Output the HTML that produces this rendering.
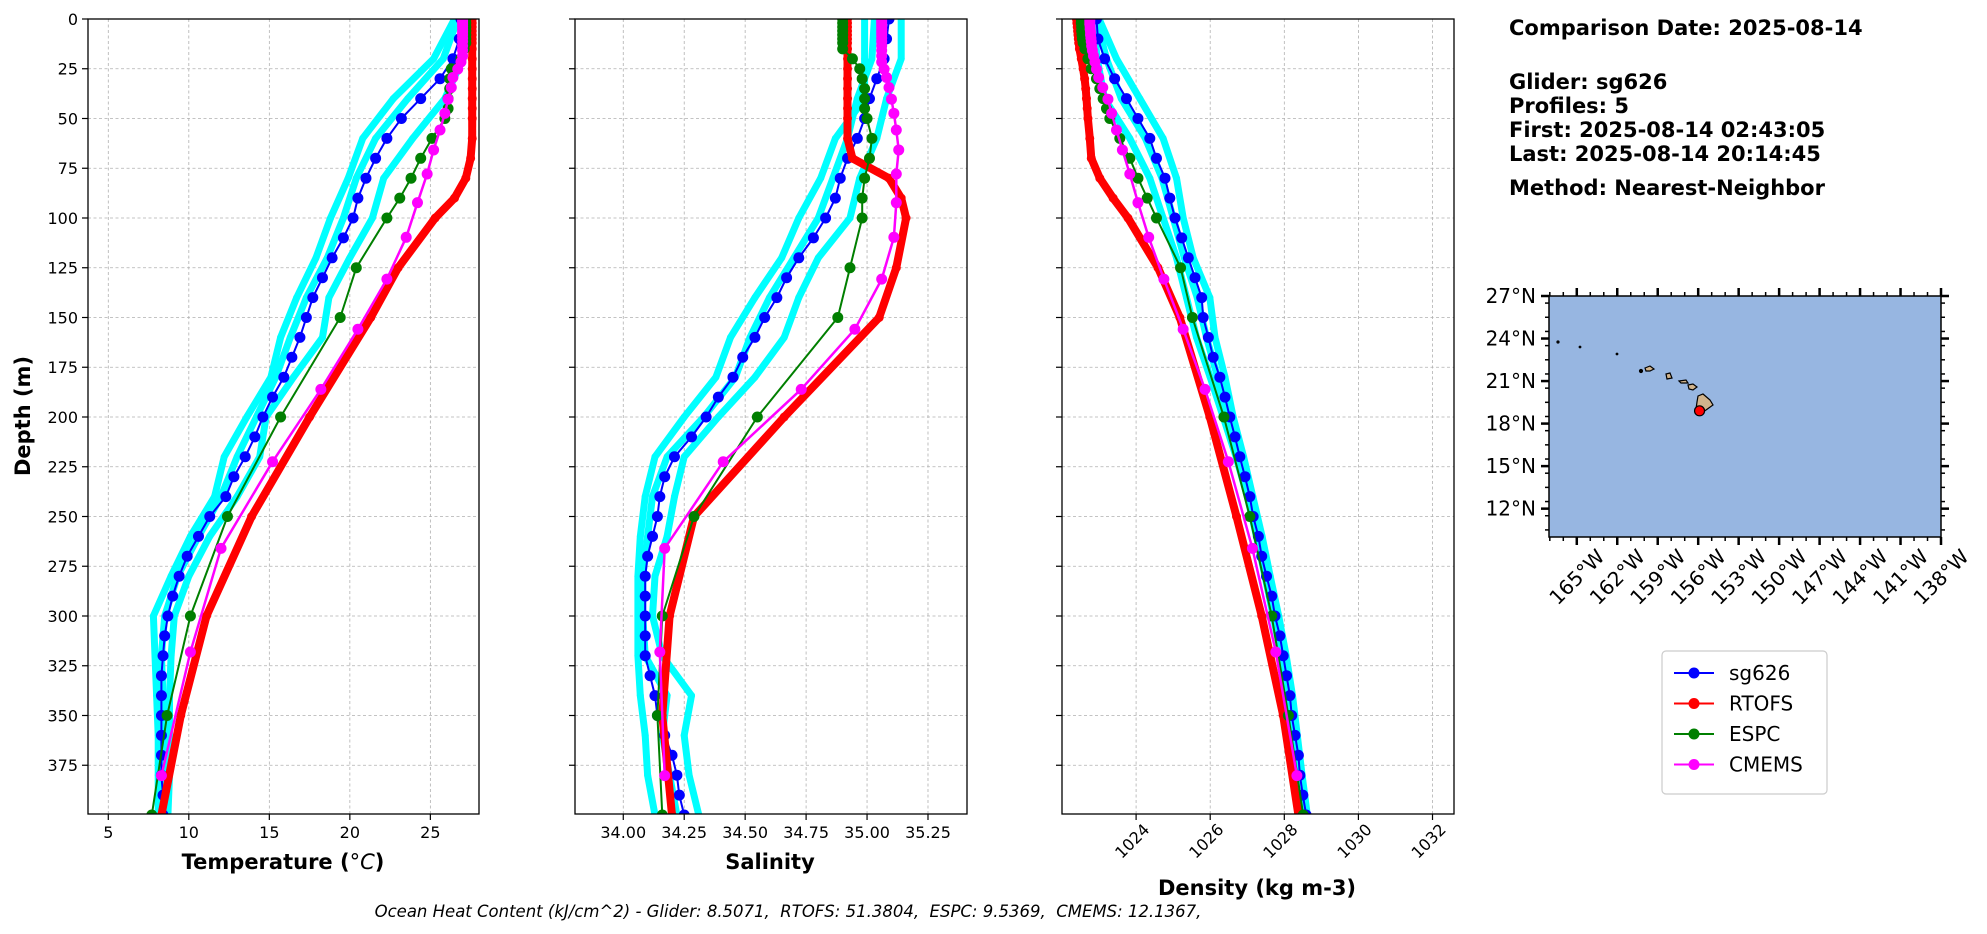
<!DOCTYPE html>
<html><head><meta charset="utf-8"><style>
html,body{margin:0;padding:0;background:#fff;}
svg{display:block;font-family:"DejaVu Sans","Liberation Sans",sans-serif;}
</style></head><body>
<svg id="fig" width="1987" height="934" viewBox="0 0 1987 934" xmlns="http://www.w3.org/2000/svg">
<rect width="1987" height="934" fill="#fff"/>
<g id="info" font-weight="bold" font-size="21" fill="#000">
<text x="1509" y="35">Comparison Date: 2025-08-14</text>
<text x="1509" y="89">Glider: sg626</text>
<text x="1509" y="113">Profiles: 5</text>
<text x="1509" y="137">First: 2025-08-14 02:43:05</text>
<text x="1509" y="161">Last: 2025-08-14 20:14:45</text>
<text x="1509" y="195">Method: Nearest-Neighbor</text>
</g>
<text x="788" y="917" text-anchor="middle" font-style="italic" font-size="16.5" style="white-space:pre" xml:space="preserve">Ocean Heat Content (kJ/cm^2) - Glider: 8.5071,  RTOFS: 51.3804,  ESPC: 9.5369,  CMEMS: 12.1367,</text>
</svg>
<script>
// ---------- data ----------
const gliderDepth=[0,10,20,30,40,50,60,70,80,90,100,110,120,130,140,150,160,170,180,190,200,210,220,230,240,250,260,270,280,290,300,310,320,330,340,350,360,370,380,390,400];
const gliderTemp=[26.9,26.8,26.4,25.6,24.4,23.2,22.3,21.6,21.0,20.5,20.2,19.6,18.9,18.3,17.7,17.3,16.9,16.4,15.9,15.2,14.6,14.1,13.5,12.8,12.3,11.3,10.6,9.9,9.4,9.0,8.7,8.5,8.4,8.3,8.3,8.3,8.3,8.3,8.3,8.4,8.4];
const gliderSal=[35.09,35.08,35.07,35.04,35.01,34.99,34.96,34.92,34.89,34.87,34.83,34.78,34.72,34.67,34.63,34.58,34.54,34.49,34.45,34.39,34.34,34.28,34.21,34.17,34.15,34.14,34.12,34.10,34.09,34.09,34.09,34.09,34.09,34.11,34.13,34.14,34.17,34.20,34.22,34.23,34.25];
const gliderDens=[1022.93,1022.97,1023.15,1023.42,1023.74,1024.05,1024.37,1024.55,1024.78,1024.91,1025.05,1025.23,1025.41,1025.59,1025.77,1025.81,1025.95,1026.08,1026.26,1026.40,1026.53,1026.67,1026.80,1026.94,1027.07,1027.16,1027.30,1027.39,1027.52,1027.66,1027.75,1027.88,1027.97,1028.06,1028.15,1028.20,1028.29,1028.38,1028.42,1028.50,1028.59];

const profDepth=[0,20,40,60,80,100,120,140,160,180,200,220,240,260,280,300,320,340,360,380,400];
const profTempA=[26.5,25.2,22.7,20.8,19.9,18.8,17.9,16.7,15.7,15.1,13.6,12.2,11.6,10.1,8.9,7.8,7.9,8.0,8.1,8.1,8.1];
const profTempB=[26.9,27.0,25.9,23.9,22.1,21.4,20.0,18.7,18.3,16.5,14.8,14.4,13.0,11.3,10.0,9.1,8.9,8.8,8.8,8.8,8.7];
const profTempC=[26.7,25.8,23.6,21.6,20.4,19.6,18.6,17.3,16.3,15.4,14.2,13.0,12.0,10.6,9.3,8.5,8.3,8.4,8.5,8.4,8.4];
const profSalA=[34.99,34.99,34.99,34.87,34.81,34.72,34.65,34.54,34.44,34.38,34.25,34.13,34.09,34.07,34.06,34.06,34.06,34.07,34.09,34.10,34.13];
const profSalB=[35.14,35.14,35.08,35.04,34.97,34.93,34.80,34.72,34.66,34.54,34.39,34.25,34.21,34.18,34.13,34.12,34.16,34.28,34.25,34.27,34.31];
const profSalC=[35.03,35.02,34.96,34.92,34.86,34.80,34.70,34.60,34.52,34.46,34.33,34.18,34.12,34.10,34.08,34.08,34.09,34.18,34.16,34.19,34.22];
const profDensA=[1022.85,1022.95,1023.15,1023.83,1024.37,1024.73,1025.09,1025.36,1025.63,1026.00,1026.35,1026.70,1027.00,1027.25,1027.48,1027.70,1027.92,1028.10,1028.25,1028.38,1028.52];
const profDensB=[1023.00,1023.47,1024.10,1024.73,1025.09,1025.27,1025.54,1025.99,1026.13,1026.40,1026.62,1026.90,1027.15,1027.40,1027.62,1027.85,1028.05,1028.22,1028.35,1028.48,1028.62];
const profDensC=[1022.92,1023.20,1023.60,1024.25,1024.70,1025.00,1025.30,1025.65,1025.90,1026.20,1026.48,1026.78,1027.05,1027.30,1027.52,1027.74,1027.96,1028.14,1028.28,1028.42,1028.56];

const modelDepth=[0,2,4,6,8,10,12,15,20,25,30,35,40,45,50,60,70,80,90,100,125,150,200,250,300,350,400];
const rtofsTemp=[27.6,27.6,27.6,27.6,27.6,27.6,27.6,27.6,27.6,27.6,27.6,27.6,27.6,27.6,27.6,27.6,27.5,27.2,26.5,25.3,23.0,21.3,17.5,13.9,11.1,9.5,8.3];
const rtofsSal=[34.92,34.92,34.92,34.92,34.92,34.92,34.92,34.92,34.92,34.92,34.92,34.92,34.92,34.92,34.92,34.92,34.94,35.09,35.14,35.16,35.12,35.05,34.66,34.29,34.19,34.16,34.20];
const rtofsDens=[1022.39,1022.40,1022.41,1022.42,1022.43,1022.44,1022.45,1022.47,1022.52,1022.57,1022.61,1022.64,1022.66,1022.68,1022.70,1022.75,1022.79,1023.02,1023.38,1023.78,1024.59,1025.18,1025.99,1026.71,1027.39,1027.97,1028.38];
const espcTemp=[27.2,27.2,27.2,27.2,27.2,27.2,27.2,27.1,26.9,26.3,26.2,26.2,26.1,26.1,25.9,25.1,24.4,23.8,23.1,22.3,20.4,19.4,15.7,12.4,10.1,8.65,7.7];
const espcSal=[34.90,34.90,34.90,34.90,34.90,34.90,34.90,34.90,34.94,34.97,34.98,34.99,34.99,34.99,35.00,35.02,35.01,34.99,34.98,34.98,34.93,34.88,34.55,34.29,34.16,34.14,34.16];
const espcDens=[1022.52,1022.52,1022.53,1022.53,1022.54,1022.55,1022.57,1022.62,1022.70,1022.79,1022.93,1023.02,1023.11,1023.20,1023.29,1023.56,1023.83,1024.05,1024.30,1024.55,1025.20,1025.52,1026.37,1027.07,1027.66,1028.11,1028.51];

const cmemsDepth=[0.5,1.5,2.6,3.8,5.1,6.4,7.9,9.6,11.4,13.5,15.8,18.5,21.6,25.2,29.4,34.4,40.3,47.4,55.8,65.8,77.9,92.3,109.7,130.7,155.9,186.1,222.5,266.0,318.1,380.2];
const cmemsTemp=[27.0,27.0,27.0,27.0,27.0,27.0,27.0,27.0,27.0,27.0,27.0,27.0,26.9,26.7,26.4,26.3,26.1,25.9,25.6,25.2,24.8,24.2,23.5,22.3,20.5,18.2,15.2,12.0,10.1,8.3];
const cmemsSal=[35.06,35.06,35.06,35.06,35.06,35.06,35.06,35.06,35.06,35.06,35.06,35.06,35.06,35.07,35.08,35.09,35.10,35.11,35.12,35.13,35.12,35.12,35.11,35.06,34.95,34.73,34.41,34.17,34.15,34.17];
const cmemsDens=[1022.75,1022.75,1022.75,1022.76,1022.76,1022.77,1022.77,1022.78,1022.79,1022.80,1022.82,1022.85,1022.89,1022.93,1022.99,1023.10,1023.24,1023.34,1023.47,1023.63,1023.83,1024.05,1024.34,1024.75,1025.27,1025.86,1026.49,1027.14,1027.77,1028.34];

const depthTicks=[0,25,50,75,100,125,150,175,200,225,250,275,300,325,350,375];
const tempTicks=[5,10,15,20,25];
const salTicks=[34.00,34.25,34.50,34.75,35.00,35.25];
const densTicks=[1024,1026,1028,1030,1032];
const latTicks=[27,24,21,18,15,12];
const lonTicks=[165,162,159,156,153,150,147,144,141,138];
const legendNames=["sg626","RTOFS","ESPC","CMEMS"];
const gliderLat=18.9, gliderLon=155.9;

// ---------- drawing ----------
const NS="http://www.w3.org/2000/svg";
const svg=document.getElementById('fig');
function el(tag,attrs,parent){const e=document.createElementNS(NS,tag);for(const k in attrs)e.setAttribute(k,attrs[k]);(parent||svg).appendChild(e);return e;}
const TOP=19,BOT=814;
function yD(d){return TOP+d*(BOT-TOP)/399.5;}

const panels=[
 {name:'temperature',x0:88,x1:479,min:3.74,max:28.02,ticks:tempTicks,fmt:v=>String(v),label:'Temperature (°C)',lx:283,ly:869,rot:false,
  prof:[profTempA,profTempB,profTempC],g:gliderTemp,r:rtofsTemp,e:espcTemp,c:cmemsTemp},
 {name:'salinity',x0:575,x1:967,min:33.802,max:35.41,ticks:salTicks,fmt:v=>v.toFixed(2),label:'Salinity',lx:770,ly:869,rot:false,
  prof:[profSalA,profSalB,profSalC],g:gliderSal,r:rtofsSal,e:espcSal,c:cmemsSal},
 {name:'density',x0:1062,x1:1454,min:1022.0,max:1032.58,ticks:densTicks,fmt:v=>String(v),label:'Density (kg m-3)',lx:1257,ly:895,rot:true,
  prof:[profDensA,profDensB,profDensC],g:gliderDens,r:rtofsDens,e:espcDens,c:cmemsDens}
];

panels.forEach((p,pi)=>{
  const xS=v=>p.x0+(v-p.min)/(p.max-p.min)*(p.x1-p.x0);
  const g=el('g',{});
  
  
  const cp=el('clipPath',{id:'clip'+pi},g);
  el('rect',{x:p.x0,y:TOP,width:p.x1-p.x0,height:BOT-TOP},cp);
  const grid=el('g',{stroke:'#b0b0b0','stroke-width':0.8,'stroke-dasharray':'3,2.5'},g);
  
  
  depthTicks.forEach(d=>{el('line',{x1:p.x0,x2:p.x1,y1:yD(d),y2:yD(d)},grid);});
  p.ticks.forEach(t=>{el('line',{x1:xS(t),x2:xS(t),y1:TOP,y2:BOT},grid);});
  const data=el('g',{'clip-path':'url(#clip'+pi+')'},g);
  function series(vals,depths,color,lw,r,nm){
    const s=el('g',{},data);
    
    
    const pts=vals.map((v,i)=>xS(v).toFixed(1)+','+yD(depths[i]).toFixed(1)).join(' ');
    el('polyline',{points:pts,fill:'none',stroke:color,'stroke-width':lw,'stroke-linejoin':'round','stroke-linecap':'round'},s);
    if(r>0) vals.forEach((v,i)=>{el('circle',{cx:xS(v),cy:yD(depths[i]),r:r,fill:color},s);});
  }
  p.prof.forEach((arr,k)=>series(arr,profDepth,'#00ffff',7,3.5,p.name+'-glider-profile-'+(k+1)));
  series(p.g,gliderDepth,'#0000ff',2,5.5,p.name+'-sg626-mean');
  series(p.r,modelDepth,'#ff0000',8,4.5,p.name+'-rtofs');
  series(p.e,modelDepth,'#007f00',2,5.5,p.name+'-espc');
  series(p.c,cmemsDepth,'#ff00ff',2.5,5.5,p.name+'-cmems');
  const fr=el('rect',{x:p.x0,y:TOP,width:p.x1-p.x0,height:BOT-TOP,fill:'none',stroke:'#000','stroke-width':1.3},g);
  
  
  depthTicks.forEach(d=>{
    el('line',{x1:p.x0-6,x2:p.x0,y1:yD(d),y2:yD(d),stroke:'#000','stroke-width':1.2},g);
    if(pi===0){const t=el('text',{x:p.x0-10,y:yD(d)+6,'text-anchor':'end','font-size':16},g);t.textContent=d;
      
      }
  });
  p.ticks.forEach(v=>{
    const x=xS(v);
    el('line',{x1:x,x2:x,y1:BOT,y2:BOT+6,stroke:'#000','stroke-width':1.2},g);
    let t;
    if(p.rot){t=el('text',{x:x,y:845,'text-anchor':'middle','font-size':16,transform:'rotate(-45 '+x+' 845)'},g);}
    else{t=el('text',{x:x,y:838,'text-anchor':'middle','font-size':16},g);}
    t.textContent=p.fmt(v);
    
    
  });
  const lb=el('text',{x:p.lx,y:p.ly,'text-anchor':'middle','font-size':21,'font-weight':'bold'},g);
  if(pi===0){lb.innerHTML='Temperature (<tspan font-style="italic" font-weight="normal">°C</tspan>)';}
  else lb.textContent=p.label;
  
  
});
const yl=el('text',{x:30,y:416,'text-anchor':'middle','font-size':21,'font-weight':'bold',transform:'rotate(-90 30 416)'});
yl.textContent='Depth (m)';



// ---------- map ----------
const MX0=1549,MX1=1941,MY0=296,MY1=537;
const lonX=lw=>MX0+(167.06-lw)*(MX1-MX0)/(167.06-138);
const latY=la=>MY1-(la-10.0)*(MY1-MY0)/17.0;
const mg=el('g',{});


el('rect',{x:MX0,y:MY0,width:MX1-MX0,height:MY1-MY0,fill:'#97b6e1'},mg);
const isl=el('g',{fill:'#d2b48c',stroke:'#000','stroke-width':1.2},mg);


el('path',{d:'M1698,396 L1703,394 L1710,400 L1713,405 L1706,410 L1700,414 L1696,409 L1697,402 Z'},isl);
el('path',{d:'M1688,385 L1693,384 L1697,387 L1693,390 L1689,389 Z'},isl);
el('path',{d:'M1679,381 L1686,380 L1688,383 L1681,383 Z'},isl);
el('path',{d:'M1666,374 L1670,373 L1672,378 L1667,379 Z'},isl);
el('path',{d:'M1645,368 L1650,366 L1654,369 L1650,371 L1646,371 Z'},isl);
el('circle',{cx:1641,cy:371,r:1.5,fill:'#000'},isl);
el('circle',{cx:1558,cy:342,r:1,fill:'#333'},isl);
el('circle',{cx:1580,cy:347,r:0.8,fill:'#333'},isl);
el('circle',{cx:1617,cy:354,r:0.8,fill:'#333'},isl);
const dot=el('circle',{cx:lonX(gliderLon),cy:latY(gliderLat),r:5,fill:'#ff0000',stroke:'#000','stroke-width':1.2},mg);


el('rect',{x:MX0,y:MY0,width:MX1-MX0,height:MY1-MY0,fill:'none',stroke:'#000','stroke-width':1.5},mg);
latTicks.forEach(la=>{
  const y=latY(la);
  el('line',{x1:MX0-8,x2:MX0,y1:y,y2:y,stroke:'#000','stroke-width':2.5},mg);
  el('line',{x1:MX1,x2:MX1+8,y1:y,y2:y,stroke:'#000','stroke-width':2.5},mg);
  const t=el('text',{x:MX0-13,y:y+7,'text-anchor':'end','font-size':20},mg);
  t.textContent=la+'°N';
  
  
});
for(let la=10.5;la<27.2;la+=1){const y=latY(la);if(latTicks.some(v=>Math.abs(v-la)<0.1))continue;
  el('line',{x1:MX0-4,x2:MX0,y1:y,y2:y,stroke:'#000','stroke-width':1.5},mg);
  el('line',{x1:MX1,x2:MX1+4,y1:y,y2:y,stroke:'#000','stroke-width':1.5},mg);}
lonTicks.forEach(lw=>{
  const x=lonX(lw);
  el('line',{x1:x,x2:x,y1:MY1,y2:MY1+8,stroke:'#000','stroke-width':2.5},mg);
  el('line',{x1:x,x2:x,y1:MY0-8,y2:MY0,stroke:'#000','stroke-width':2.5},mg);
  const t=el('text',{x:x,y:584,'text-anchor':'middle','font-size':20,transform:'rotate(-45 '+x+' 577)'},mg);
  t.textContent=lw+'°W';
  
  
});
for(let lw=167;lw>138.2;lw-=1){if(lonTicks.includes(lw))continue;const x=lonX(lw);
  el('line',{x1:x,x2:x,y1:MY1,y2:MY1+4,stroke:'#000','stroke-width':1.5},mg);
  el('line',{x1:x,x2:x,y1:MY0-4,y2:MY0,stroke:'#000','stroke-width':1.5},mg);}

// ---------- legend ----------
const lg=el('g',{});


el('rect',{x:1662,y:651,width:165,height:143,rx:4,fill:'#fff',stroke:'#cccccc','stroke-width':1.2},lg);
const lcolors=['#0000ff','#ff0000','#007f00','#ff00ff'];
legendNames.forEach((n,i)=>{
  const y=673+i*30.5;
  const e=el('g',{},lg);
  
  
  el('line',{x1:1674,x2:1714,y1:y,y2:y,stroke:lcolors[i],'stroke-width':2},e);
  el('circle',{cx:1694,cy:y,r:5.5,fill:lcolors[i]},e);
  const t=el('text',{x:1729,y:y+7,'font-size':20},e);
  t.textContent=n;
});
</script>
</body></html>
